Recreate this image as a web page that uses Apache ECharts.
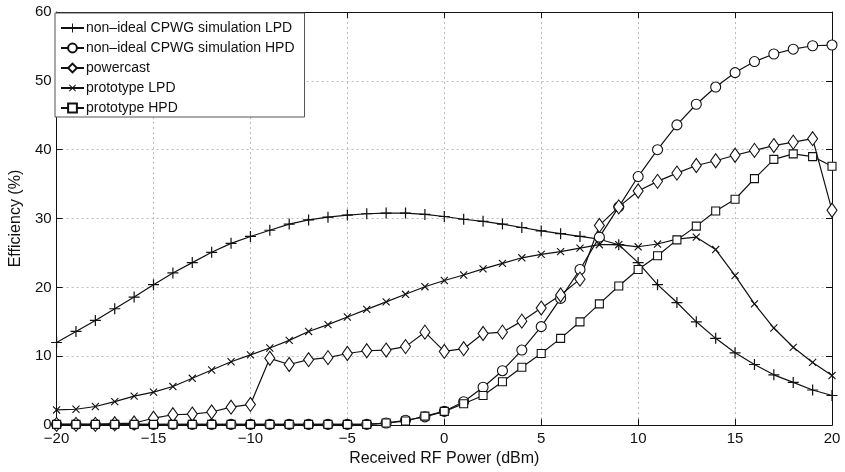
<!DOCTYPE html>
<html>
<head>
<meta charset="utf-8">
<script src="https://cdn.jsdelivr.net/npm/echarts@6/dist/echarts.min.js"></script>
<style>
  html, body { margin: 0; padding: 0; background: #fff; }
  #chart { width: 845px; height: 472px; }
</style>
</head>
<body>
<div id="chart"></div>
<script>
// received RF power (dBm)
const powerDbm = [-20, -19, -18, -17, -16, -15, -14, -13, -12, -11, -10, -9, -8, -7, -6, -5, -4, -3, -2, -1,
  0, 1, 2, 3, 4, 5, 6, 7, 8, 9, 10, 11, 12, 13, 14, 15, 16, 17, 18, 19, 20];

// efficiency (%)
const simLPD = [12.0, 13.6, 15.2, 16.9, 18.6, 20.4, 22.1, 23.6, 25.1, 26.4, 27.4, 28.3, 29.2, 29.8, 30.2, 30.5, 30.7, 30.8, 30.8, 30.6,
  30.3, 29.9, 29.6, 29.2, 28.7, 28.2, 27.8, 27.4, 27.0, 26.2, 23.6, 20.4, 17.8, 15.0, 12.6, 10.5, 8.8, 7.3, 6.2, 5.1, 4.3];
const simHPD = [0.1, 0.1, 0.1, 0.1, 0.1, 0.1, 0.1, 0.1, 0.1, 0.1, 0.1, 0.1, 0.1, 0.1, 0.1, 0.1, 0.1, 0.3, 0.7, 1.2,
  2.0, 3.4, 5.5, 7.9, 10.9, 14.3, 18.4, 22.6, 27.3, 31.7, 36.1, 40.0, 43.6, 46.6, 49.1, 51.2, 52.8, 53.9, 54.6, 55.1, 55.2];
const powercast = [0.1, 0.1, 0.1, 0.2, 0.3, 1.0, 1.5, 1.6, 1.9, 2.6, 3.0, 9.7, 8.8, 9.5, 9.8, 10.4, 10.8, 10.9, 11.4, 13.5,
  10.7, 11.1, 13.3, 13.5, 15.1, 17.0, 18.9, 21.2, 29.0, 31.7, 34.0, 35.4, 36.6, 37.7, 38.4, 39.2, 39.9, 40.6, 41.1, 41.6, 31.2];
const protoLPD = [2.2, 2.3, 2.7, 3.4, 4.2, 4.8, 5.6, 6.8, 8.0, 9.2, 10.2, 11.2, 12.3, 13.6, 14.6, 15.7, 16.8, 17.9, 19.0, 20.1,
  21.0, 21.8, 22.7, 23.5, 24.3, 24.8, 25.2, 25.7, 26.2, 26.2, 25.9, 26.3, 27.0, 27.3, 25.5, 21.7, 17.6, 14.1, 11.3, 9.1, 7.2];
const protoHPD = [0.1, 0.1, 0.1, 0.1, 0.1, 0.1, 0.1, 0.1, 0.1, 0.1, 0.1, 0.1, 0.1, 0.1, 0.1, 0.1, 0.1, 0.3, 0.6, 1.3,
  2.0, 3.1, 4.3, 6.3, 8.4, 10.4, 12.6, 15.0, 17.6, 20.2, 22.6, 24.6, 26.9, 28.9, 31.1, 32.8, 35.8, 38.6, 39.4, 39.0, 37.6];

const seriesNames = [
  'non\u2013ideal CPWG simulation LPD',
  'non\u2013ideal CPWG simulation HPD',
  'powercast',
  'prototype LPD',
  'prototype HPD'
];

const FONT = 'Liberation Sans';
const INK = '#111';
const PLUS = 'path://M4.45,0H5.55V10H4.45Z M0,4.45H10V5.55H0Z';

const pairs = ys => powerDbm.map((x, i) => [x, ys[i]]);
const minus = v => String(v).replace('-', '\u2212');

const chart = echarts.init(document.getElementById('chart'));

function makeSeries(name, ys, symbol, size, rotate) {
  const filled = symbol === PLUS;
  return {
    name: name,
    type: 'line',
    data: pairs(ys),
    symbol: symbol,
    symbolSize: size,
    symbolRotate: rotate || 0,
    showAllSymbol: true,
    lineStyle: { color: INK, width: 1.2 },
    itemStyle: {
      color: filled ? INK : '#fff',
      borderColor: INK,
      borderWidth: filled ? 0 : 1.1
    },
    emphasis: { disabled: true },
    animation: false
  };
}

const tickStyle = { show: true, inside: true, length: 6, lineStyle: { color: INK, width: 1 } };
const gridStyle = { show: true, lineStyle: { color: '#bbb', type: [2, 3], width: 1 } };

chart.setOption({
  backgroundColor: '#fff',
  grid: { left: 53, right: 13, top: 12, bottom: 45 },
  legend: {
    orient: 'vertical',
    left: 55,
    top: 13,
    data: seriesNames,
    itemWidth: 23,
    itemHeight: 11,
    itemGap: 6,
    padding: [8, 10, 2, 5],
    backgroundColor: '#fff',
    borderColor: '#555',
    borderWidth: 1,
    textStyle: { fontFamily: FONT, fontSize: 14, color: INK, padding: [0, 0, 0, -3] },
    inactiveColor: '#999'
  },
  xAxis: [{
    type: 'value',
    min: -20,
    max: 20,
    interval: 5,
    name: 'Received RF Power (dBm)',
    nameLocation: 'middle',
    nameGap: 19,
    nameTextStyle: { fontFamily: FONT, fontSize: 16, color: INK },
    axisLine: { show: true, lineStyle: { color: INK, width: 1 } },
    axisTick: tickStyle,
    axisLabel: { fontFamily: FONT, fontSize: 15, color: INK, margin: 6, formatter: minus },
    splitLine: gridStyle
  }, {
    type: 'value',
    position: 'top',
    min: -20,
    max: 20,
    interval: 5,
    axisLine: { show: true, onZero: false, lineStyle: { color: INK, width: 1 } },
    axisTick: tickStyle,
    axisLabel: { show: false },
    splitLine: { show: false }
  }],
  yAxis: [{
    type: 'value',
    min: 0,
    max: 60,
    interval: 10,
    name: 'Efficiency (%)',
    nameLocation: 'middle',
    nameGap: 31,
    nameTextStyle: { fontFamily: FONT, fontSize: 16, color: INK },
    axisLine: { show: true, onZero: false, lineStyle: { color: INK, width: 1 } },
    axisTick: tickStyle,
    axisLabel: { fontFamily: FONT, fontSize: 15, color: INK, margin: 5 },
    splitLine: gridStyle
  }, {
    type: 'value',
    position: 'right',
    min: 0,
    max: 60,
    interval: 10,
    axisLine: { show: true, onZero: false, lineStyle: { color: INK, width: 1 } },
    axisTick: tickStyle,
    axisLabel: { show: false },
    splitLine: { show: false }
  }],
  series: [
    makeSeries(seriesNames[0], simLPD, PLUS, 11),
    makeSeries(seriesNames[1], simHPD, 'circle', 10),
    makeSeries(seriesNames[2], powercast, 'diamond', [10, 14]),
    makeSeries(seriesNames[3], protoLPD, PLUS, 10, 45),
    makeSeries(seriesNames[4], protoHPD, 'rect', 8)
  ]
});
</script>
</body>
</html>
